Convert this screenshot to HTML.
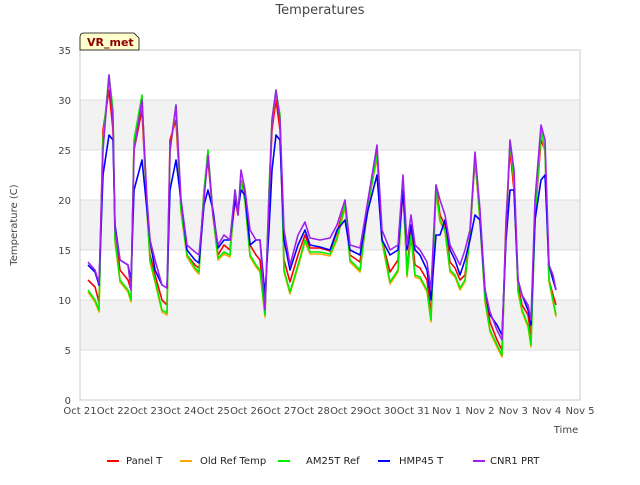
<!DOCTYPE html>
<html><head><meta charset="utf-8"><style>
body{margin:0;background:#fff;}
svg text{font-family:"DejaVu Sans","Liberation Sans",sans-serif;}
</style></head><body>
<svg id="c" width="640" height="480">
<text x="320" y="14" text-anchor="middle" font-size="13" fill="#444">Temperatures</text>
<g id="bands"></g><g id="grid"></g><g id="axes"></g><g id="lines"></g>
<rect x="80" y="50" width="500" height="350" fill="none" stroke="#ccc"/>
<g>
<path d="M80,50 L80,37 Q80,33 84,33 L134,33 L139,38 L139,50 Z" fill="#ffffcc" stroke="#000" stroke-width="0.8"/>
<text x="87" y="46" font-size="11" font-weight="bold" fill="#8b0000">VR_met</text></g>
<text transform="translate(17,225) rotate(-90)" text-anchor="middle" font-size="10" fill="#444">Temperature (C)</text>
<text x="566" y="433" text-anchor="middle" font-size="10" fill="#444">Time</text>
<g id="legend"></g>
</svg>
<script>
const xTicks=["Oct 21","Oct 22","Oct 23","Oct 24","Oct 25","Oct 26","Oct 27","Oct 28","Oct 29","Oct 30","Oct 31","Nov 1","Nov 2","Nov 3","Nov 4","Nov 5"];
const yTicks=[0,5,10,15,20,25,30,35];
const t=[0.24,0.45,0.57,0.69,0.87,0.99,1.05,1.2,1.44,1.53,1.62,1.86,2.01,2.1,2.25,2.46,2.61,2.7,2.88,3.03,3.21,3.45,3.57,3.72,3.84,3.99,4.14,4.32,4.5,4.65,4.74,4.83,4.95,5.1,5.28,5.4,5.55,5.67,5.76,5.88,6.0,6.12,6.3,6.54,6.75,6.9,7.2,7.5,7.71,7.95,8.1,8.4,8.64,8.91,9.06,9.3,9.54,9.69,9.81,9.93,10.05,10.2,10.41,10.53,10.68,10.8,10.95,11.1,11.25,11.4,11.55,11.7,11.85,12.0,12.15,12.3,12.51,12.66,12.78,12.9,13.02,13.14,13.26,13.44,13.53,13.65,13.83,13.95,14.07,14.19,14.28];
const cnr1=[13.8,13,11.7,25,32.5,28,17,14,13.5,11,25,30,20,16,14,11.5,11.2,25,29.5,20,15.5,14.8,14.5,20,24.5,18.5,15.5,16.5,16,21,18.5,23,21,17,16,16,9,20,28,31,28,17,13.5,16.5,17.8,16.2,16,16.2,17.5,20,15.5,15.2,20,25.5,17,15,15.5,22.5,15.5,18.5,15.5,15,13.8,11,21.5,20,18.5,15.5,14.5,13.5,15,17,24.8,19,11,8.8,7,6,17,26,23,12,10.5,9.5,8,20,27.5,26,13.5,12.5,11];
const am25t=[11,10,9,26,32.5,29,16,12,11,10,26,30.5,19,14,12,9,8.7,25,29.5,19,14.5,13.2,12.8,21,25,18.5,14.2,14.8,14.5,21,19,22,20,14.5,13.5,13,8.5,21,28,31,28.5,13,10.8,13.5,16,14.8,14.8,14.6,16.2,19.5,14,13,19.5,24.5,16,11.8,13,22,12.5,16.5,12.5,12.3,11,8,21,18,17,13,12.5,11.2,12,16.5,24.5,18,10,7,5.5,4.5,17,26,22,11,9,7.5,5.5,18,27,25,12,10,8.5];
const oldref=[10.8,9.8,8.8,25.8,32.3,28.8,15.8,11.8,10.8,9.8,25.8,30.3,18.8,13.8,11.8,8.8,8.5,24.8,29.3,18.8,14.3,13,12.6,20.8,24.8,18.3,14,14.6,14.3,20.8,18.8,21.8,19.8,14.3,13.3,12.8,8.3,20.8,27.8,30.8,28.3,12.8,10.6,13.3,15.8,14.6,14.6,14.4,16,19.3,13.8,12.8,19.3,24.3,15.8,11.6,12.8,21.8,12.3,16.3,12.3,12.1,10.8,7.8,20.8,17.8,16.8,12.8,12.3,11,11.8,16.3,24.3,17.8,9.8,6.8,5.3,4.3,16.8,25.8,21.8,10.8,8.8,7.3,5.3,17.8,26.8,24.8,11.8,9.8,8.3];
const panel=[12,11.3,9.8,27,31,27,17,13,12,11,25,29,19,14.5,12.5,10,9.5,26,28,19,14.5,13.5,13.2,21,24,18.5,14.5,15.5,15,20,18.5,22,20.5,15.5,14.5,14,9,20,27,30,27,14,11.8,14.5,16.5,15.2,15.2,14.9,16.8,19.5,14.5,13.8,20,25,16,12.8,14,21,13,17,13.5,13.2,12,8.5,21.5,18.5,17.5,13.8,13.2,12,12.5,16.5,24,18,10.5,7.8,6,5,18,25,21,11.5,9.5,8.5,6.5,18,26,25,12,10.5,9.5];
const hmp45=[13.5,12.8,11.5,22.5,26.5,26,17.5,14,13.5,12,21,24,19,16,13,11.5,11.2,21,24,20,15,14,13.7,19.5,21,19,15.2,16,16,20,19,21,20.5,15.5,16,16,10.5,17,23,26.5,26,16,13,15.5,17,15.5,15.3,15,17,18,15,14.5,19,22.5,16,14.5,15,21,15,17.5,15,14.5,13,10,16.5,16.5,18,15,14,12.5,14,16,18.5,18,11,8.5,7.5,6.5,16,21,21,12,10.5,9,7.5,18,22,22.5,13.5,12,11];
const X0=80,X1=580,Y0=400,Y1=50;
const xs=d=>X0+d*(X1-X0)/15, ys=v=>Y0-v*(Y0-Y1)/35;
const NS="http://www.w3.org/2000/svg";
function mk(tag,attrs,parent){const e=document.createElementNS(NS,tag);for(const k in attrs)e.setAttribute(k,attrs[k]);document.getElementById(parent).appendChild(e);return e;}
for(const lo of [5,15,25]){const r=mk('rect',{x:X0,y:ys(lo+5),width:X1-X0,height:ys(lo)-ys(lo+5),fill:'#f2f2f2'},'bands');

}
yTicks.forEach(v=>{const l=mk('line',{x1:X0,x2:X1,y1:ys(v),y2:ys(v),stroke:'#ddd'},'grid');


const tx=mk('text',{x:X0-9,y:ys(v)+4,'text-anchor':'end','font-size':10,fill:'#444'},'axes');tx.textContent=v;

});
xTicks.forEach((s,i)=>{const tx=mk('text',{x:xs(i),y:414,'text-anchor':'middle','font-size':10,fill:'#444'},'axes');tx.textContent=s;

});
const series=[["Panel T",panel,"#ff0000",107,126],["Old Ref Temp",oldref,"#ffa500",180,200],["AM25T Ref",am25t,"#00ee00",278,306],["HMP45 T",hmp45,"#0000ff",378,399],["CNR1 PRT",cnr1,"#a020f0",473,490]];
series.forEach(([name,vals,col,lx,tx])=>{
const p=mk('polyline',{points:t.map((d,i)=>xs(d).toFixed(1)+','+ys(vals[i]).toFixed(1)).join(' '),fill:'none',stroke:col,'stroke-width':1.6,'stroke-linejoin':'round'},'lines');


const sw=mk('line',{x1:lx,x2:lx+12,y1:461,y2:461,stroke:col,'stroke-width':2},'legend');


const te=mk('text',{x:tx,y:464,'font-size':10,fill:'#222'},'legend');te.textContent=name;

});
</script>
</body></html>
